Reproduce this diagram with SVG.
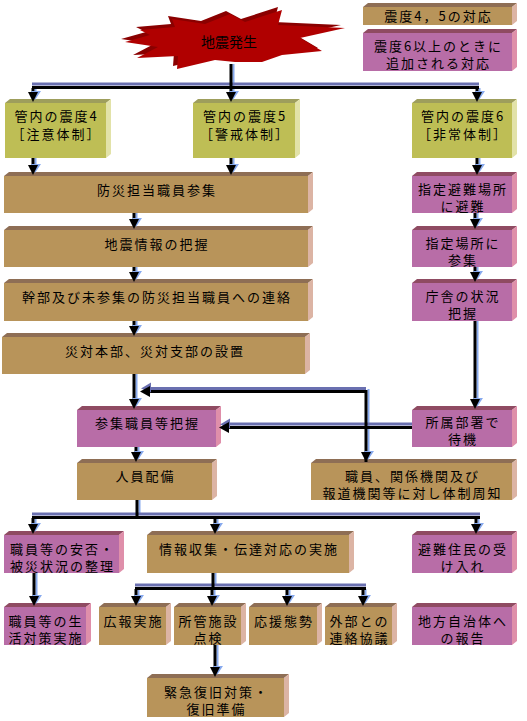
<svg xmlns="http://www.w3.org/2000/svg" xmlns:xlink="http://www.w3.org/1999/xlink" width="527" height="721" viewBox="0 0 527 721">
<style>
.t{font-family:"Noto Sans CJK JP","Noto Sans CJK SC",sans-serif;font-size:13px;letter-spacing:2px;text-anchor:middle;fill:#000}
.tanF{fill:#B8945A}.tanT{fill:#8E6E55}.tanR{fill:#DCB4A4}
.pkF{fill:#B86DA7}.pkT{fill:#8F4B62}.pkR{fill:#DF8FAA}
.olF{fill:#BEBE55}.olT{fill:#9E9E5C}.olR{fill:#E2E2A8}
.k{stroke:#000;stroke-width:3;fill:none}
.b{stroke:#88AAEE;stroke-width:2;fill:none}
.h{stroke:#6A70B0;stroke-width:3;fill:none}
</style>
<defs>
<g id="ad"><polygon points="-2,-11 8,-11 2,-2" fill="#88AAEE"/><polygon points="-5,-10 5,-10 0,0" fill="#000"/></g>
<g id="al"><polygon points="1,-3 11,-9 11,1" fill="#6A70B0"/><polygon points="0,0 10,-5.5 10,5.5" fill="#000"/></g>
</defs>
<rect width="527" height="721" fill="#fff"/>

<g id="quake">
<polygon transform="translate(-4,-3)" fill="#8A0000" points="125,42 150,35 140,30 175,27 172,19 205,24 230,14 245,22 282,10 278,25 345,28 300,38 322,51 282,55 262,62 235,62 215,60 177,69 178,56 137,58 158,47"/>
<polygon fill="#B00000" points="125,42 150,35 140,30 175,27 172,19 205,24 230,14 245,22 282,10 278,25 345,28 300,38 322,51 282,55 262,62 235,62 215,60 177,69 178,56 137,58 158,47"/>
<text class="t" x="229" y="47" style="font-size:14px;letter-spacing:0">地震発生</text>
</g>

<g id="legend45">
<polygon class="tanT" points="363,7 368,3 517,3 512,7"/><polygon class="tanR" points="512,7 517,3 517,21 512,25"/><rect class="tanF" x="363" y="7" width="149" height="18"/>
<text class="t" x="438.5" y="21">震度4，5の対応</text>
</g>
<g id="legend6">
<polygon class="pkT" points="363,33 368,29 517,29 512,33"/><polygon class="pkR" points="512,33 517,29 517,67 512,71"/><rect class="pkF" x="363" y="33" width="149" height="38"/>
<text class="t" x="438.5" y="51">震度6以上のときに</text><text class="t" x="438.5" y="68">追加される対応</text>
</g>

<g id="shindo4">
<polygon class="olT" points="5,103 10,99 111,99 106,103"/><polygon class="olR" points="106,103 111,99 111,154 106,158"/><rect class="olF" x="5" y="103" width="101" height="55"/>
<text class="t" x="56.5" y="121">管内の震度4</text><text class="t" x="56.5" y="139">［注意体制］</text>
</g>
<g id="shindo5">
<polygon class="olT" points="193,103 198,99 300,99 295,103"/><polygon class="olR" points="295,103 300,99 300,154 295,158"/><rect class="olF" x="193" y="103" width="102" height="55"/>
<text class="t" x="245" y="121">管内の震度5</text><text class="t" x="245" y="139">［警戒体制］</text>
</g>
<g id="shindo6">
<polygon class="olT" points="412,103 417,99 517,99 512,103"/><polygon class="olR" points="512,103 517,99 517,154 512,158"/><rect class="olF" x="412" y="103" width="100" height="55"/>
<text class="t" x="463" y="121">管内の震度6</text><text class="t" x="463" y="139">［非常体制］</text>
</g>

<g id="sanshu">
<polygon class="tanT" points="4,176 9,172 313,172 308,176"/><polygon class="tanR" points="308,176 313,172 313,209 308,213"/><rect class="tanF" x="4" y="176" width="304" height="37"/>
<text class="t" x="157" y="195">防災担当職員参集</text>
</g>
<g id="haaku">
<polygon class="tanT" points="4,230 9,226 313,226 308,230"/><polygon class="tanR" points="308,230 313,226 313,263 308,267"/><rect class="tanF" x="4" y="230" width="304" height="37"/>
<text class="t" x="157" y="249">地震情報の把握</text>
</g>
<g id="renraku">
<polygon class="tanT" points="4,283 9,279 313,279 308,283"/><polygon class="tanR" points="308,283 313,279 313,317 308,321"/><rect class="tanF" x="4" y="283" width="304" height="38"/>
<text class="t" x="157" y="302">幹部及び未参集の防災担当職員への連絡</text>
</g>
<g id="secchi">
<polygon class="tanT" points="2,337 7,333 310,333 305,337"/><polygon class="tanR" points="305,337 310,333 310,370 305,374"/><rect class="tanF" x="2" y="337" width="303" height="37"/>
<text class="t" x="155" y="356">災対本部、災対支部の設置</text>
</g>

<g id="hinan">
<polygon class="pkT" points="412,176 417,172 517,172 512,176"/><polygon class="pkR" points="512,176 517,172 517,209 512,213"/><rect class="pkF" x="412" y="176" width="100" height="37"/>
<text class="t" x="463" y="194">指定避難場所</text><text class="t" x="463" y="211">に避難</text>
</g>
<g id="shitei">
<polygon class="pkT" points="412,230 417,226 517,226 512,230"/><polygon class="pkR" points="512,230 517,226 517,263 512,267"/><rect class="pkF" x="412" y="230" width="100" height="37"/>
<text class="t" x="463" y="248">指定場所に</text><text class="t" x="463" y="265">参集</text>
</g>
<g id="chosha">
<polygon class="pkT" points="412,283 417,279 517,279 512,283"/><polygon class="pkR" points="512,283 517,279 517,317 512,321"/><rect class="pkF" x="412" y="283" width="100" height="38"/>
<text class="t" x="463" y="301">庁舎の状況</text><text class="t" x="463" y="318">把握</text>
</g>

<g id="sanshuhaaku">
<polygon class="pkT" points="77,410 82,406 221,406 216,410"/><polygon class="pkR" points="216,410 221,406 221,443 216,447"/><rect class="pkF" x="77" y="410" width="139" height="37"/>
<text class="t" x="147.5" y="428">参集職員等把握</text>
</g>
<g id="taiki">
<polygon class="pkT" points="412,410 417,406 517,406 512,410"/><polygon class="pkR" points="512,410 517,406 517,443 512,447"/><rect class="pkF" x="412" y="410" width="100" height="37"/>
<text class="t" x="463" y="427">所属部署で</text><text class="t" x="463" y="444">待機</text>
</g>
<g id="haibi">
<polygon class="tanT" points="77,463 82,459 217,459 212,463"/><polygon class="tanR" points="212,463 217,459 217,496 212,500"/><rect class="tanF" x="77" y="463" width="135" height="37"/>
<text class="t" x="145.5" y="481">人員配備</text>
</g>
<g id="shuchi">
<polygon class="tanT" points="311,463 316,459 517,459 512,463"/><polygon class="tanR" points="512,463 517,459 517,496 512,500"/><rect class="tanF" x="311" y="463" width="201" height="37"/>
<text class="t" x="412.5" y="481">職員、関係機関及び</text><text class="t" x="412.5" y="498">報道機関等に対し体制周知</text>
</g>

<g id="anpi">
<polygon class="pkT" points="4,535 9,531 124,531 119,535"/><polygon class="pkR" points="119,535 124,531 124,569 119,573"/><rect class="pkF" x="4" y="535" width="115" height="38"/>
<text class="t" x="62.5" y="554">職員等の安否・</text><text class="t" x="62.5" y="571">被災状況の整理</text>
</g>
<g id="joho">
<polygon class="tanT" points="147,535 152,531 354,531 349,535"/><polygon class="tanR" points="349,535 354,531 354,569 349,573"/><rect class="tanF" x="147" y="535" width="202" height="38"/>
<text class="t" x="249" y="554">情報収集・伝達対応の実施</text>
</g>
<g id="ukeire">
<polygon class="pkT" points="412,535 417,531 517,531 512,535"/><polygon class="pkR" points="512,535 517,531 517,569 512,573"/><rect class="pkF" x="412" y="535" width="100" height="38"/>
<text class="t" x="463" y="554">避難住民の受</text><text class="t" x="463" y="571">け入れ</text>
</g>
<g id="seikatsu">
<polygon class="pkT" points="4,607 9,603 91,603 86,607"/><polygon class="pkR" points="86,607 91,603 91,641 86,645"/><rect class="pkF" x="4" y="607" width="82" height="38"/>
<text class="t" x="46" y="626">職員等の生</text><text class="t" x="46" y="643">活対策実施</text>
</g>
<g id="koho">
<polygon class="tanT" points="99,607 104,603 171,603 166,607"/><polygon class="tanR" points="166,607 171,603 171,641 166,645"/><rect class="tanF" x="99" y="607" width="67" height="38"/>
<text class="t" x="133.5" y="626">広報実施</text>
</g>
<g id="tenken">
<polygon class="tanT" points="174,607 179,603 246,603 241,607"/><polygon class="tanR" points="241,607 246,603 246,641 241,645"/><rect class="tanF" x="174" y="607" width="67" height="38"/>
<text class="t" x="208.5" y="626">所管施設</text><text class="t" x="208.5" y="643">点検</text>
</g>
<g id="oen">
<polygon class="tanT" points="249,607 254,603 322,603 317,607"/><polygon class="tanR" points="317,607 322,603 322,641 317,645"/><rect class="tanF" x="249" y="607" width="68" height="38"/>
<text class="t" x="284" y="626">応援態勢</text>
</g>
<g id="gaibu">
<polygon class="tanT" points="325,607 330,603 397,603 392,607"/><polygon class="tanR" points="392,607 397,603 397,641 392,645"/><rect class="tanF" x="325" y="607" width="67" height="38"/>
<text class="t" x="359.5" y="626">外部との</text><text class="t" x="359.5" y="643">連絡協議</text>
</g>
<g id="hokoku">
<polygon class="pkT" points="412,607 417,603 517,603 512,607"/><polygon class="pkR" points="512,607 517,603 517,641 512,645"/><rect class="pkF" x="412" y="607" width="100" height="38"/>
<text class="t" x="463" y="626">地方自治体へ</text><text class="t" x="463" y="643">の報告</text>
</g>
<g id="fukkyu">
<polygon class="tanT" points="147,678 152,674 289,674 284,678"/><polygon class="tanR" points="284,678 289,674 289,713 284,717"/><rect class="tanF" x="147" y="678" width="137" height="39"/>
<text class="t" x="216.5" y="697">緊急復旧対策・</text><text class="t" x="216.5" y="714">復旧準備</text>
</g>

<g id="connectors">
<path class="b" d="M233.5,64V86 M35.5,88V93 M233.5,88V93 M479.5,88V93
M35.5,158V166 M233.5,158V166 M479.5,158V166
M136.5,213V220 M136.5,267V273 M136.5,321V327 M136.5,374V400
M477.5,213V220 M477.5,267V273 M477.5,321V400
M138.5,447V453 M139.5,500V515
M35.5,518V525 M217.5,518V525 M478.5,518V525
M36.5,573V597 M215.5,573V586
M138.5,589V597 M214.5,589V597 M289.5,589V597 M365.5,589V597
M217.5,645V668 M368.5,389V453"/>
<path class="h" d="M32,84H479 M32,514H480 M135,585H366 M412,424H229 M366,388.5H150"/>
<path class="k" d="M231,64V87 M32,87.5H479 M33,88V94 M231,88V94 M477,88V94
M33,158V167 M231,158V167 M477,158V167
M134,213V221 M134,267V274 M134,321V328 M134,374V401
M475,213V221 M475,267V274 M475,321V401
M136,447V454 M137,500V517 M32,517.5H480
M33,518V526 M215,518V526 M476,518V526
M34,573V598 M213,573V588 M135,588.5H366
M136,589V598 M212,589V598 M287,589V598 M363,589V598
M215,645V669 M412,427.5H229 M366,462V391.5H150"/>
<use xlink:href="#ad" href="#ad" x="33" y="102"/>
<use xlink:href="#ad" href="#ad" x="231" y="102"/>
<use xlink:href="#ad" href="#ad" x="477" y="102"/>
<use xlink:href="#ad" href="#ad" x="33" y="175"/>
<use xlink:href="#ad" href="#ad" x="231" y="175"/>
<use xlink:href="#ad" href="#ad" x="477" y="175"/>
<use xlink:href="#ad" href="#ad" x="134" y="229"/>
<use xlink:href="#ad" href="#ad" x="134" y="282"/>
<use xlink:href="#ad" href="#ad" x="134" y="336"/>
<use xlink:href="#ad" href="#ad" x="134" y="409"/>
<use xlink:href="#ad" href="#ad" x="475" y="229"/>
<use xlink:href="#ad" href="#ad" x="475" y="282"/>
<use xlink:href="#ad" href="#ad" x="475" y="409"/>
<use xlink:href="#ad" href="#ad" x="136" y="462"/>
<use xlink:href="#ad" href="#ad" x="366" y="462"/>
<use xlink:href="#ad" href="#ad" x="33" y="534"/>
<use xlink:href="#ad" href="#ad" x="215" y="534"/>
<use xlink:href="#ad" href="#ad" x="476" y="534"/>
<use xlink:href="#ad" href="#ad" x="34" y="606"/>
<use xlink:href="#ad" href="#ad" x="136" y="606"/>
<use xlink:href="#ad" href="#ad" x="212" y="606"/>
<use xlink:href="#ad" href="#ad" x="287" y="606"/>
<use xlink:href="#ad" href="#ad" x="363" y="606"/>
<use xlink:href="#ad" href="#ad" x="215" y="677"/>
<use xlink:href="#al" href="#al" x="219" y="427.5"/>
<use xlink:href="#al" href="#al" x="140" y="391.5"/>
</g>
</svg>
